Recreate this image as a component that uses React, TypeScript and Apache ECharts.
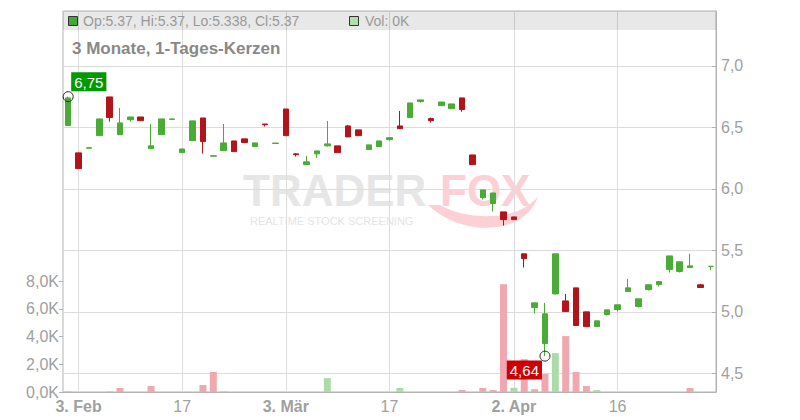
import React, { useEffect, useRef } from 'react';
import * as echarts from 'echarts';

const FONT = 'Liberation Sans, Arial, Helvetica, sans-serif';

const START_DATE = '2025-01-31';

const opens = [
  6.515, 6.293, 6.331, 6.433, 6.748, 6.441, 6.563, 6.585, 6.328, 6.441,
  6.565, 6.295, 6.393, 6.577, 6.266, 6.311, 6.390, 6.407, 6.344, 6.528,
  6.369, 6.650, 6.285, 6.198, 6.285, 6.350, 6.350, 6.512, 6.480, 6.320,
  6.344, 6.401, 6.512, 6.580, 6.710, 6.572, 6.677, 6.653, 6.740, 6.276,
  5.929, 5.881, 5.813, 5.772, 5.472, 5.035, 4.742, 5.146, 5.089, 5.195,
  5.000, 4.880, 4.978, 5.019, 5.165, 5.043, 5.181, 5.222, 5.344, 5.328,
  5.360, 5.220, 5.370,
];
const closes = [
  6.740, 6.165, 6.335, 6.569, 6.580, 6.537, 6.585, 6.555, 6.350, 6.569,
  6.569, 6.325, 6.553, 6.385, 6.270, 6.374, 6.303, 6.377, 6.374, 6.522,
  6.373, 6.433, 6.278, 6.220, 6.309, 6.366, 6.295, 6.423, 6.433, 6.358,
  6.390, 6.417, 6.490, 6.699, 6.724, 6.555, 6.707, 6.691, 6.645, 6.198,
  5.992, 5.967, 5.750, 5.750, 5.433, 5.073, 4.984, 5.472, 5.002, 4.889,
  4.880, 4.927, 5.016, 5.057, 5.195, 5.106, 5.220, 5.246, 5.455, 5.407,
  5.374, 5.198, 5.370,
];
const lows = [
  6.515, 6.165, 6.331, 6.433, 6.547, 6.441, 6.547, 6.555, 6.328, 6.441,
  6.565, 6.295, 6.393, 6.287, 6.266, 6.311, 6.303, 6.377, 6.344, 6.507,
  6.369, 6.433, 6.263, 6.198, 6.252, 6.344, 6.295, 6.423, 6.433, 6.320,
  6.344, 6.393, 6.490, 6.580, 6.702, 6.539, 6.677, 6.653, 6.628, 6.198,
  5.913, 5.816, 5.702, 5.750, 5.360, 4.986, 4.640, 5.140, 5.002, 4.889,
  4.880, 4.880, 4.970, 5.003, 5.165, 5.035, 5.173, 5.206, 5.320, 5.320,
  5.360, 5.198, 5.338,
];
const highs = [
  6.750, 6.293, 6.335, 6.569, 6.748, 6.659, 6.585, 6.585, 6.528, 6.569,
  6.569, 6.325, 6.553, 6.577, 6.270, 6.528, 6.390, 6.407, 6.374, 6.528,
  6.373, 6.650, 6.290, 6.268, 6.309, 6.553, 6.350, 6.520, 6.480, 6.358,
  6.390, 6.417, 6.634, 6.699, 6.724, 6.580, 6.707, 6.691, 6.740, 6.276,
  5.992, 5.967, 5.813, 5.772, 5.472, 5.073, 5.073, 5.472, 5.146, 5.195,
  5.000, 4.927, 5.016, 5.057, 5.268, 5.106, 5.220, 5.246, 5.455, 5.407,
  5.472, 5.228, 5.370,
];
const volumes = [
  50, 0, 0, 0, 50, 290, 0, 0, 430, 0,
  0, 0, 0, 500, 1440, 50, 0, 0, 0, 0,
  0, 0, 0, 0, 0, 1000, 0, 0, 0, 0,
  0, 0, 290, 0, 0, 0, 0, 0, 140, 0,
  290, 140, 7770, 300, 2370, 200, 1300, 2800, 4030, 1440,
  430, 140, 0, 0, 0, 0, 0, 0, 0, 0,
  290, 0, 0,
];

const tickDates = ['2025-02-03', '2025-02-17', '2025-03-03', '2025-03-17', '2025-04-02', '2025-04-16'];
const tickTexts = ['3. Feb', '17', '3. Mär', '17', '2. Apr', '16'];
const tickBold = [true, false, true, false, true, false];

const UP = '#4aab36';
const DOWN = '#b2141b';
const VOL_UP = '#abdca8';
const VOL_DOWN = '#f1a7af';
const AXIS = '#b3b3b3';
const GRID = '#dcdcdc';
const LABEL = '#a0a0a0';

function weekdays(start: string, n: number): string[] {
  const out: string[] = [];
  const d = new Date(start + 'T00:00:00Z');
  while (out.length < n) {
    const wd = d.getUTCDay();
    if (wd !== 0 && wd !== 6) out.push(d.toISOString().slice(0, 10));
    d.setUTCDate(d.getUTCDate() + 1);
  }
  return out;
}

const categories = weekdays(START_DATE, opens.length);

echarts.graphic.registerShape(
  'foxTail',
  echarts.graphic.extendPath(
    'M0 8 C15 22 40 34 70 30 C90 27 104 16 110 0 C98 12 84 18 66 19 C44 20 26 16 12 8 Z',
    {}
  )
);

export default function App() {
  const ref = useRef<HTMLDivElement>(null);

  useEffect(() => {
    if (!ref.current) return;
    const chart = echarts.init(ref.current, undefined, { renderer: 'svg' });

    let hiIdx = 0;
    let loIdx = 0;
    highs.forEach((h, i) => { if (h > highs[hiIdx]) hiIdx = i; });
    lows.forEach((l, i) => { if (l < lows[loIdx]) loIdx = i; });

    const isTick = (_i: number, v: string) => tickDates.indexOf(v) >= 0;

    const volData = volumes.map((v, i) => ({
      value: v,
      itemStyle: { color: i === 0 || closes[i] >= closes[i - 1] ? VOL_UP : VOL_DOWN },
    }));

    const candleData = opens.map((o, i) => [o, closes[i], lows[i], highs[i]]);

    const option: any = {
      animation: false,
      textStyle: { fontFamily: FONT },
      grid: [
        { left: 63, right: 84, top: 11, bottom: 28, show: true, borderColor: AXIS, borderWidth: 1, backgroundColor: 'transparent' },
        { left: 63, right: 84, top: 281, bottom: 28 },
      ],
      xAxis: [
        {
          type: 'category',
          gridIndex: 0,
          data: categories,
          boundaryGap: true,
          axisLine: { lineStyle: { color: AXIS } },
          axisTick: { alignWithLabel: true, interval: isTick, length: 5, lineStyle: { color: AXIS } },
          axisLabel: {
            interval: isTick,
            margin: 6,
            color: LABEL,
            fontSize: 16,
            formatter: (v: string) => {
              const k = tickDates.indexOf(v);
              if (k < 0) return '';
              return tickBold[k] ? `{b|${tickTexts[k]}}` : tickTexts[k];
            },
            rich: { b: { fontWeight: 'bold', fontSize: 16, color: LABEL, fontFamily: FONT } },
          },
          splitLine: { show: false },
        },
        { type: 'category', gridIndex: 1, data: categories, boundaryGap: true, show: false },
      ],
      yAxis: [
        {
          type: 'value',
          gridIndex: 0,
          position: 'right',
          min: 4.348,
          max: 7.447,
          minInterval: 0.5,
          maxInterval: 0.5,
          splitNumber: 6,
          axisLine: { show: true, lineStyle: { color: AXIS } },
          axisTick: { show: true, inside: true, length: 4, lineStyle: { color: AXIS } },
          axisLabel: {
            formatter: (v: number) => v.toFixed(1).replace('.', ','),
            showMinLabel: false,
            showMaxLabel: false,
            color: LABEL,
            fontSize: 16,
            margin: 5,
          },
          splitLine: { show: true, lineStyle: { color: GRID } },
        },
        {
          type: 'value',
          gridIndex: 1,
          position: 'left',
          min: 0,
          max: 8000,
          interval: 2000,
          axisLine: { show: false },
          axisTick: { show: true, length: 4, lineStyle: { color: AXIS } },
          axisLabel: {
            formatter: (v: number) => (v / 1000).toFixed(1).replace('.', ',') + 'K',
            color: LABEL,
            fontSize: 16,
            margin: 4,
          },
          splitLine: { show: false },
        },
      ],
      series: [
        {
          type: 'bar',
          name: 'Vol',
          xAxisIndex: 1,
          yAxisIndex: 1,
          barWidth: 7,
          z: 1,
          data: volData,
        },
        {
          type: 'candlestick',
          name: 'Kurs',
          xAxisIndex: 0,
          yAxisIndex: 0,
          barWidth: 6,
          z: 3,
          data: candleData,
          itemStyle: {
            color: UP,
            color0: DOWN,
            borderColor: UP,
            borderColor0: DOWN,
            borderColorDoji: UP,
            borderWidth: 1,
          },
          markLine: {
            silent: true,
            z: 1,
            symbol: ['none', 'none'],
            label: { show: false },
            lineStyle: { color: GRID, type: 'solid', width: 1 },
            data: tickDates.map((d) => ({ xAxis: d })),
          },
          markPoint: {
            z: 6,
            symbol: 'circle',
            symbolSize: 10,
            itemStyle: { color: 'rgba(255,255,255,0)', borderColor: '#222', borderWidth: 1 },
            data: [
              {
                coord: [categories[hiIdx], highs[hiIdx]],
                value: highs[hiIdx],
                label: {
                  show: true,
                  position: 'top',
                  distance: 0,
                  align: 'left',
                  offset: [3, 0],
                  backgroundColor: '#009900',
                  color: '#fff',
                  fontSize: 15,
                  lineHeight: 16,
                  padding: [2, 3, 1, 3],
                  formatter: (p: any) => Number(p.value).toFixed(2).replace('.', ','),
                },
              },
              {
                coord: [categories[loIdx], lows[loIdx]],
                value: lows[loIdx],
                label: {
                  show: true,
                  position: 'bottom',
                  distance: 0,
                  align: 'right',
                  offset: [-3, -1],
                  backgroundColor: '#cc0000',
                  color: '#fff',
                  fontSize: 15,
                  lineHeight: 16,
                  padding: [2, 3, 1, 3],
                  formatter: (p: any) => Number(p.value).toFixed(2).replace('.', ','),
                },
              },
            ],
          },
        },
      ],
      graphic: [
        {
          type: 'text', z: -1, x: 243, y: 190,
          style: { text: 'TRADER', fill: '#e6e6e6', fontSize: 44, lineHeight: 34, fontWeight: 'bold', fontFamily: FONT, verticalAlign: 'middle', align: 'left' },
        },
        {
          type: 'text', z: -1, x: 440, y: 190,
          style: { text: 'FOX', fill: '#fcd0d5', fontSize: 44, lineHeight: 34, fontWeight: 'bold', fontFamily: FONT, verticalAlign: 'middle', align: 'left' },
        },
        {
          type: 'foxTail', z: -1, x: 428, y: 197, scaleX: 1, scaleY: 1,
          style: { fill: '#fcd0d5' },
        },
        {
          type: 'text', z: -1, x: 250, y: 221,
          style: { text: 'REALTIME STOCK SCREENING', fill: '#e4e4e4', fontSize: 11, lineHeight: 11, fontFamily: FONT, verticalAlign: 'middle', align: 'left' },
        },
        {
          type: 'rect', z: 10,
          shape: { x: 63, y: 11, width: 653, height: 19 },
          style: { fill: 'rgba(0,0,0,0.09)' },
        },
        {
          type: 'rect', z: 11,
          shape: { x: 68.5, y: 16.5, width: 9, height: 9 },
          style: { fill: '#44a832', stroke: '#333', lineWidth: 1 },
        },
        {
          type: 'text', z: 11, x: 83, y: 21,
          style: { text: 'Op:5.37, Hi:5.37, Lo:5.338, Cl:5.37', fill: '#999', fontSize: 14, fontFamily: FONT, verticalAlign: 'middle', align: 'left' },
        },
        {
          type: 'rect', z: 11,
          shape: { x: 349.5, y: 16.5, width: 9, height: 9 },
          style: { fill: '#aee0a8', stroke: '#333', lineWidth: 1 },
        },
        {
          type: 'text', z: 11, x: 365, y: 21,
          style: { text: 'Vol: 0K', fill: '#999', fontSize: 14, fontFamily: FONT, verticalAlign: 'middle', align: 'left' },
        },
        {
          type: 'text', z: 11, x: 72, y: 48,
          style: { text: '3 Monate, 1-Tages-Kerzen', fill: '#888', fontSize: 17, fontWeight: 'bold', fontFamily: FONT, verticalAlign: 'middle', align: 'left' },
        },
      ],
    };

    chart.setOption(option);
    return () => chart.dispose();
  }, []);

  return (
    <div
      ref={ref}
      style={{ position: 'fixed', left: 0, top: 0, width: 800, height: 420, background: '#fff' }}
    />
  );
}
